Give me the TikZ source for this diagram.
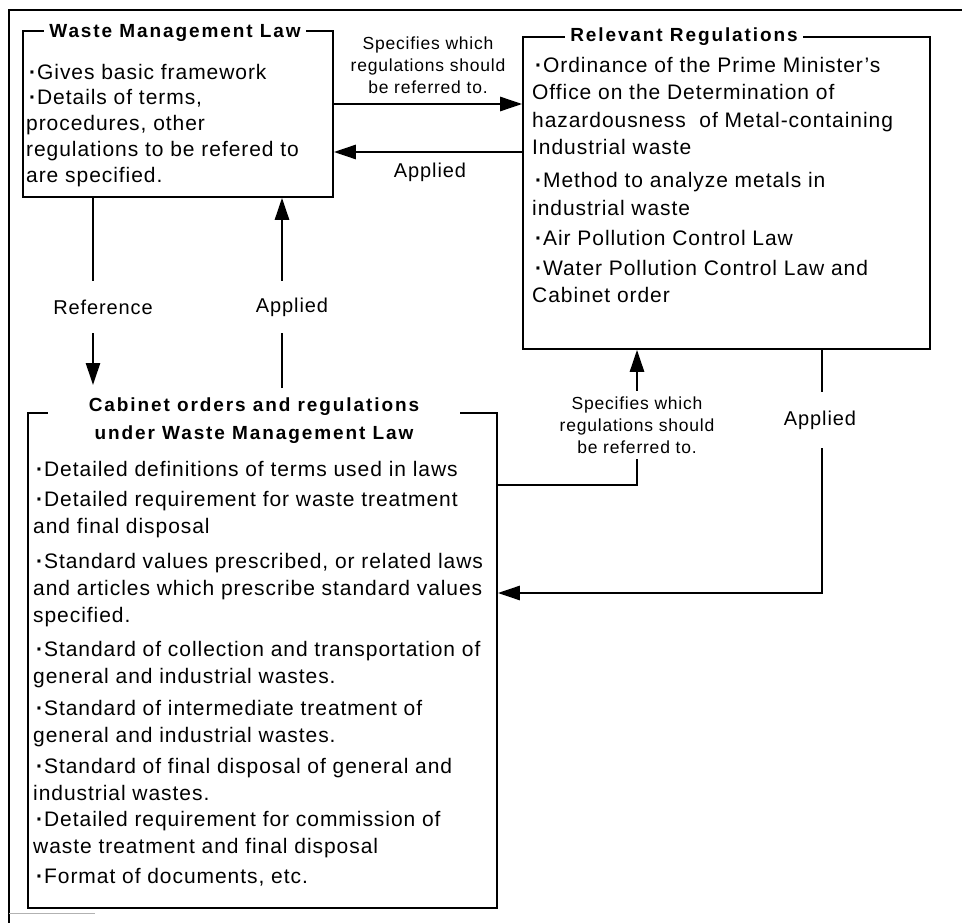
\documentclass[tikz,border=0pt]{standalone}
\usepackage{fontspec}
\setmainfont{Liberation Sans}[LetterSpace=4.5]
\newfontfamily\ttlfont{Liberation Sans}[LetterSpace=10]
\usetikzlibrary{arrows.meta}
\newcommand{\mybul}{\hspace*{3pt}\textbf{·}}
\begin{document}
\begin{tikzpicture}[x=1pt,y=-1pt,
 box/.style={draw=black, line width=1.6pt, inner sep=0pt},
 arr/.style={line width=2.6pt, -{Triangle[length=22pt,width=14pt]}},
 ttl/.style={fill=white, inner xsep=5pt, inner ysep=2pt, font=\ttlfont\bfseries\fontsize{19}{28}\selectfont, align=center},
 body/.style={inner sep=0pt, anchor=base west, align=left},
 lbl/.style={fill=white, inner xsep=2pt, inner ysep=0pt, font=\fontsize{20}{24}\selectfont},
 slbl/.style={font=\fontsize{17.5}{22}\selectfont, align=center, inner sep=0pt},
]
\useasboundingbox (0,0) rectangle (962,923);
\fill[white] (0,0) rectangle (962,923);
% outer frame
\draw[line width=1.2pt] (8,10) -- (962,10);
\draw[line width=1.2pt] (9,10) -- (9,923);
\draw[gray!60, line width=1pt] (9,913) -- (95,913);
% boxes
\node[box, minimum width=310pt, minimum height=166pt] (wml) at (178,114) {};
\node[box, minimum width=407pt, minimum height=312pt] (rel) at (726.5,193) {};
\node[box, minimum width=469pt, minimum height=495pt] (cab) at (262.5,660.5) {};
% helper coordinates
\coordinate (yA) at (0,104);
\coordinate (yB) at (0,152);
\coordinate (xR) at (93,0);
\coordinate (xP) at (282,0);
\coordinate (rtip) at (93,385);
\coordinate (pstart) at (282,388);
\coordinate (xS) at (637,0);
\coordinate (yS) at (0,485);
\coordinate (xQ) at (822,0);
\coordinate (yQ) at (0,593);
% connectors
\draw[arr] (wml.east |- yA) -- (rel.west |- yA);
\draw[arr] (rel.west |- yB) -- (wml.east |- yB);
\draw[arr] (wml.south -| xR) -- (rtip);
\draw[arr] (pstart) -- (wml.south -| xP);
\draw[arr] (cab.east |- yS) -| (rel.south -| xS);
\draw[arr] (rel.south -| xQ) |- (cab.east |- yQ);
% connector labels
\node[lbl, minimum height=52pt] (lref) at (103,307) {Reference};
\node[lbl, minimum height=52pt] (lapp1) at (292,307) {Applied};
\node[lbl, minimum height=56pt] (lapp2) at (820,420) {Applied};
\node[slbl, fill=white, minimum height=68pt] (lspec2) at (637,425) {Specifies which\\regulations should\\be referred to.};
\node[slbl] (lspec1) at (428,65) {Specifies which\\regulations should\\be referred to.};
\node[font=\fontsize{20}{24}\selectfont, inner sep=0pt] (lapp0) at (430,172) {Applied};
% titles
\node[ttl] (wmlt) at (175,33) {Waste Management Law};
\node[ttl] (relt) at (684,37) {Relevant Regulations};
\node[ttl, minimum width=412pt] (cabt) at (254,421) {Cabinet orders and regulations\\under Waste Management Law};
% body texts (anchored at the baseline of their last line)
\node[body, font=\fontsize{21}{26}\selectfont] (wmltext) at (26,183) {\mybul Gives basic framework\\
\mybul Details of terms,\\
procedures, other\\
regulations to be refered to\\
are specified.};
\node[body, font=\fontsize{21}{27.5}\selectfont] (reltext) at (532,302.5) {\mybul Ordinance of the Prime Minister's\\
Office on the Determination of\\
hazardousness\ \ of Metal-containing\\
Industrial waste\\[5.5pt]
\mybul Method to analyze metals in\\
industrial waste\\[2.5pt]
\mybul Air Pollution Control Law\\[2.5pt]
\mybul Water Pollution Control Law and\\
Cabinet order};
\node[body, font=\fontsize{21}{27}\selectfont] (cabtext) at (33,883) {\mybul Detailed definitions of terms used in laws\\[3pt]
\mybul Detailed requirement for waste treatment\\
and final disposal\\[8pt]
\mybul Standard values prescribed, or related laws\\
and articles which prescribe standard values\\
specified.\\[7pt]
\mybul Standard of collection and transportation of\\
general and industrial wastes.\\[5pt]
\mybul Standard of intermediate treatment of\\
general and industrial wastes.\\[4pt]
\mybul Standard of final disposal of general and\\
industrial wastes.\\[-1pt]
\mybul Detailed requirement for commission of\\
waste treatment and final disposal\\[3pt]
\mybul Format of documents, etc.};
\end{tikzpicture}
\end{document}
